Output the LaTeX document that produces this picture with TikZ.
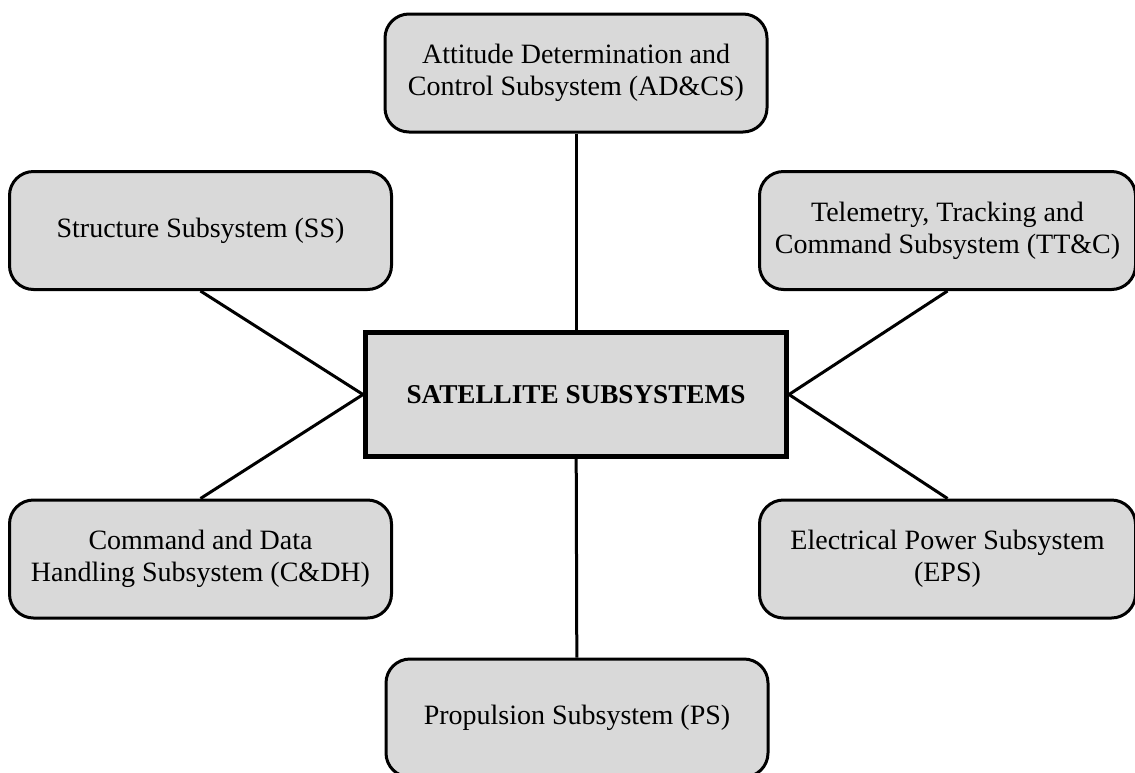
\documentclass[tikz,border=0pt]{standalone}
\usepackage{fontspec}
\setmainfont{Liberation Serif}
\definecolor{boxgray}{RGB}{217,217,217}

\begin{document}
\begin{tikzpicture}[
    x=0.5pt, y=-0.5pt,
    line width=1.5pt,
    every node/.style={font=\fontsize{14}{16}\selectfont},
    hub/.style={draw, rectangle, fill=boxgray, line width=2.5pt, align=center, minimum width=210.5pt, minimum height=62pt, font=\fontsize{13.6}{16}\selectfont\bfseries},
    sub/.style={draw, rectangle, rounded corners=12pt, fill=boxgray, align=center, minimum width=191pt, minimum height=59pt}
]
\useasboundingbox (0,0) rectangle (1135,772);
\node[hub] (sat) at (576,394.5) {SATELLITE SUBSYSTEMS};
\node[sub] (adcs) at (576,73) {Attitude Determination and\\Control Subsystem (AD\&CS)};
\node[sub] (ss) at (200.5,230.5) {Structure Subsystem (SS)};
\node[sub, minimum width=188pt] (ttc) at (947.5,230.5) {Telemetry, Tracking and\\Command Subsystem (TT\&C)};
\node[sub] (cdh) at (200.5,559) {Command and Data\\Handling Subsystem (C\&DH)};
\node[sub, minimum width=188pt] (eps) at (947.5,559) {Electrical Power Subsystem\\(EPS)};
\node[sub] (ps) at (577,718) {Propulsion Subsystem (PS)};
\draw (adcs) -- (sat);
\draw (sat) -- (ps);
\draw (ss.south) -- (sat.west);
\draw (cdh.north) -- (sat.west);
\draw (ttc.south) -- (sat.east);
\draw (eps.north) -- (sat.east);
\end{tikzpicture}
\end{document}
